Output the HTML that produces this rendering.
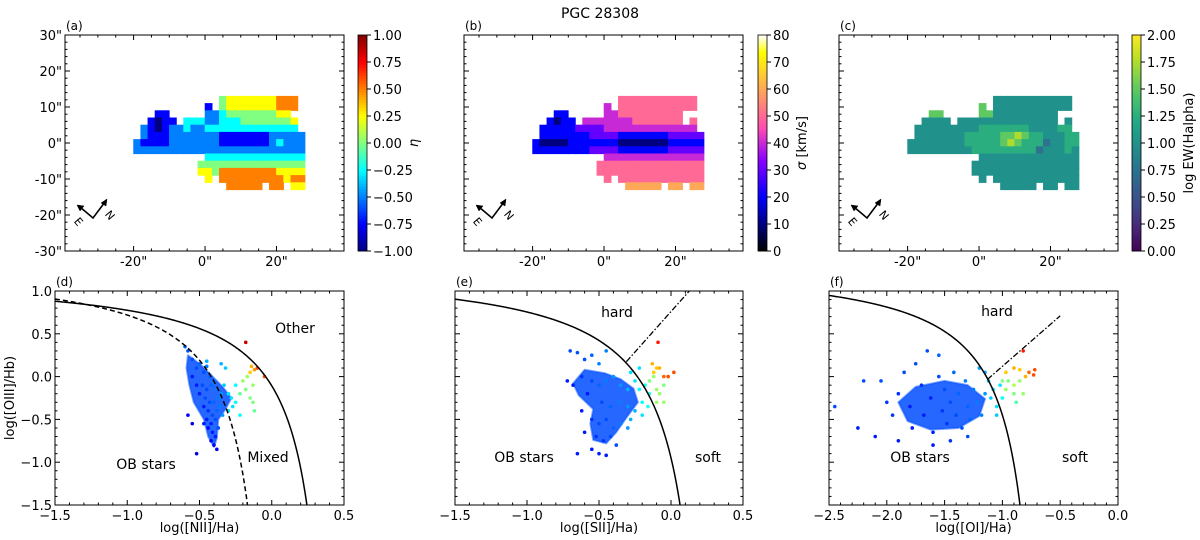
<!DOCTYPE html>
<html><head><meta charset="utf-8"><style>
html,body{margin:0;padding:0;background:#fff;width:1200px;height:540px;overflow:hidden;}
svg{display:block;font-family:"DejaVu Sans","Liberation Sans",sans-serif;}
</style></head><body>
<svg id="fig" width="1200" height="540" viewBox="0 0 1200 540" xmlns="http://www.w3.org/2000/svg">
<text x="600" y="18" text-anchor="middle" font-size="14">PGC 28308</text>
</svg>
<script>
// ---------- DATA ----------
const mapColsX = [-19,-17,-15,-13,-11,-9,-7,-5,-3,-1,1,3,5,7,9,11,13,15,17,19,21,23,25,27];
const mapRowsY = [12,10,8,6,4,2,0,-2,-4,-6,-8,-10,-12];
const etaRows = [
"............45555555666.",
"..........1.45555555666.",
"...11.....223444444455..",
"..1011.3332233344444445.",
".2101223223333333333333.",
".21112222222111111122222",
"211112222222111111123222",
"222222222222222222222222",
"..........33333333333333",
".........444444444444444",
".........554666666665555",
"..........5.666666666566",
".............66666.66.55"];
const sigRows = [
"............55555555555.",
"..........4.55555555555.",
"...22.....44555555555...",
"..2122.44444445555555.5.",
".2222233334444444444444.",
".22222223333222222233333",
"211112222222111111122222",
"222222223333222222233333",
"..........44444444444444",
".........555555555555555",
".........555555555555555",
"..........5.555555555555",
".............66666.66.66"];
const ewRows = [
"............44444444444.",
"..........6.44444444444.",
"...66.....66444444444...",
"..4444.44444444444444.4.",
".4444444445555555444455.",
".44444445555566765544455",
"444444445555567655534455",
"444444444555555555344454",
"..........44444444444444",
".........444444444444444",
".........444444444444444",
"..........4.444444444444",
".............44444.44.44"];
const etaTicks = [-1,-0.75,-0.5,-0.25,0,0.25,0.5,0.75,1];
const sigTicks = [0,10,20,30,40,50,60,70,80];
const ewTicks = [0,0.25,0.5,0.75,1,1.25,1.5,1.75,2];
const mapXTicks = [-20,0,20];
const mapYTicks = [-30,-20,-10,0,10,20,30];

const nIIPoints = [[-0.58,0.3,-0.6],[-0.55,0.2,-0.6],[-0.52,0.1,-0.6],[-0.5,0.15,-0.55],[-0.47,0.05,-0.6],[-0.45,0.12,-0.5],[-0.43,0,-0.55],[-0.55,0,-0.7],[-0.52,-0.1,-0.7],[-0.48,-0.1,-0.6],[-0.45,-0.15,-0.6],[-0.42,-0.1,-0.55],[-0.4,-0.05,-0.5],[-0.38,-0.15,-0.5],[-0.5,-0.2,-0.7],[-0.46,-0.25,-0.6],[-0.43,-0.3,-0.6],[-0.4,-0.3,-0.55],[-0.37,-0.25,-0.5],[-0.35,-0.2,-0.45],[-0.47,-0.35,-0.7],[-0.44,-0.4,-0.65],[-0.41,-0.45,-0.6],[-0.38,-0.4,-0.55],[-0.36,-0.35,-0.5],[-0.45,-0.5,-0.7],[-0.42,-0.55,-0.7],[-0.39,-0.5,-0.6],[-0.37,-0.6,-0.6],[-0.44,-0.6,-0.75],[-0.41,-0.65,-0.7],[-0.39,-0.7,-0.7],[-0.42,-0.75,-0.75],[-0.4,-0.8,-0.75],[-0.38,-0.85,-0.75],[-0.47,-0.55,-0.7],[-0.58,-0.45,-0.75],[-0.55,-0.55,-0.8],[-0.52,-0.9,-0.8],[-0.34,-0.45,-0.45],[-0.6,0.35,-0.55],[-0.45,0.18,-0.4],
[-0.33,-0.1,-0.35],[-0.3,-0.2,-0.3],[-0.28,-0.25,-0.3],[-0.32,0.1,-0.35],[-0.35,0.15,-0.4],[-0.27,-0.35,-0.3],[-0.25,-0.3,-0.25],[-0.3,-0.4,-0.3],[-0.22,-0.45,-0.25],[-0.25,-0.1,-0.25],
[-0.22,-0.2,-0.05],[-0.18,-0.15,0],[-0.15,-0.25,0],[-0.2,-0.05,0.05],[-0.17,0,0.05],[-0.13,-0.1,0.05],[-0.13,-0.3,0],[-0.12,-0.4,-0.05],
[-0.15,0.05,0.35],[-0.14,0.12,0.4],[-0.12,0.08,0.45],[-0.1,0.1,0.6],[-0.05,0,0.6],[-0.18,0.4,0.85]];
const sIIPoints = [[-0.7,0.3,-0.6],[-0.65,0.28,-0.6],[-0.6,0.2,-0.6],[-0.55,0.25,-0.55],[-0.5,0.15,-0.5],[-0.45,0.3,-0.5],[-0.72,-0.05,-0.7],[-0.68,-0.1,-0.7],[-0.62,0,-0.65],[-0.58,-0.2,-0.7],[-0.55,-0.05,-0.6],[-0.5,-0.1,-0.55],[-0.45,-0.05,-0.5],[-0.4,0,-0.45],[-0.35,-0.1,-0.45],[-0.3,-0.15,-0.4],[-0.48,-0.3,-0.6],[-0.42,-0.35,-0.55],[-0.36,-0.3,-0.5],[-0.3,-0.35,-0.45],[-0.25,-0.4,-0.4],[-0.55,-0.5,-0.65],[-0.5,-0.55,-0.6],[-0.45,-0.5,-0.6],[-0.4,-0.6,-0.55],[-0.35,-0.55,-0.5],[-0.52,-0.7,-0.65],[-0.47,-0.75,-0.65],[-0.42,-0.7,-0.6],[-0.38,-0.8,-0.6],[-0.55,-0.85,-0.7],[-0.5,-0.9,-0.7],[-0.65,-0.9,-0.7],[-0.45,-0.92,-0.7],[-0.62,-0.4,-0.7],[-0.6,-0.65,-0.7],[-0.3,-0.6,-0.45],[-0.28,-0.5,-0.4],
[-0.28,0.05,-0.3],[-0.25,-0.05,-0.3],[-0.22,-0.15,-0.25],[-0.2,-0.3,-0.25],[-0.18,-0.1,-0.2],[-0.15,-0.2,-0.2],[-0.22,0.1,-0.3],[-0.16,-0.35,-0.2],[-0.2,-0.45,-0.3],
[-0.15,-0.05,0],[-0.12,0,0.05],[-0.1,-0.15,0.05],[-0.08,-0.2,0.05],[-0.05,-0.1,0],[-0.1,-0.3,0.05],[-0.05,-0.3,0.05],
[-0.12,0.05,0.35],[-0.1,0.1,0.35],[-0.13,0.15,0.4],[-0.08,0.1,0.4],[-0.05,0,0.55],[-0.02,0,0.6],[0.02,0.05,0.6],[-0.09,0.4,0.7]];
const oIPoints = [[-2.45,-0.35,-0.6],[-2.2,-0.05,-0.6],[-2.05,-0.05,-0.6],[-2.0,-0.3,-0.65],[-1.95,-0.45,-0.65],[-1.9,-0.2,-0.65],[-1.85,0.05,-0.6],[-1.8,-0.35,-0.7],[-1.78,-0.6,-0.7],[-1.75,0.15,-0.6],[-1.7,-0.1,-0.65],[-1.68,-0.45,-0.7],[-1.65,0.3,-0.6],[-1.62,-0.25,-0.7],[-1.6,-0.65,-0.7],[-1.55,0.0,-0.6],[-1.52,-0.4,-0.65],[-1.5,-0.15,-0.6],[-1.48,-0.55,-0.65],[-1.45,-0.3,-0.6],[-1.42,0.05,-0.55],[-1.4,-0.45,-0.6],[-1.38,-0.2,-0.55],[-1.35,-0.6,-0.6],[-1.32,-0.05,-0.5],[-1.3,-0.35,-0.55],[-1.28,-0.5,-0.55],[-1.25,-0.15,-0.5],[-1.22,-0.3,-0.5],[-1.2,0.1,-0.45],[-1.18,-0.45,-0.5],[-1.15,-0.2,-0.45],[-1.6,-0.8,-0.7],[-1.45,-0.75,-0.65],[-2.25,-0.6,-0.7],[-2.1,-0.7,-0.7],[-1.9,-0.75,-0.7],[-1.3,-0.7,-0.6],[-1.55,0.25,-0.55],
[-1.12,-0.05,-0.35],[-1.1,-0.25,-0.35],[-1.08,-0.15,-0.3],[-1.05,-0.35,-0.3],[-1.02,-0.1,-0.3],[-1.0,-0.25,-0.25],[-1.15,0.05,-0.4],[-1.05,-0.45,-0.35],
[-1.0,-0.05,0],[-0.97,-0.15,0.05],[-0.95,-0.05,0],[-0.9,-0.2,0],[-0.9,-0.1,0.1],[-0.85,-0.05,0.05],[-0.82,-0.2,0.05],[-0.88,-0.3,-0.1],
[-0.97,0.05,0.35],[-0.9,0.1,0.4],[-0.85,0.08,0.35],[-0.8,0.0,0.4],[-0.77,0.05,0.55],[-0.73,0.02,0.6],[-0.72,0.08,0.6],[-0.82,0.3,0.7]];
const nIICore = [[-0.58,0.25],[-0.5,0.15],[-0.42,0.02],[-0.34,-0.12],[-0.28,-0.25],[-0.32,-0.38],[-0.37,-0.5],[-0.38,-0.72],[-0.4,-0.82],[-0.44,-0.7],[-0.47,-0.5],[-0.54,-0.3],[-0.57,-0.1],[-0.59,0.1]];
const sIICore = [[-0.68,-0.08],[-0.6,0.08],[-0.46,0.04],[-0.35,-0.03],[-0.26,-0.14],[-0.23,-0.3],[-0.31,-0.48],[-0.38,-0.65],[-0.45,-0.78],[-0.54,-0.74],[-0.56,-0.55],[-0.54,-0.38],[-0.64,-0.22]];
const oICore = [[-1.9,-0.3],[-1.75,-0.12],[-1.5,-0.05],[-1.3,-0.1],[-1.15,-0.26],[-1.2,-0.46],[-1.38,-0.6],[-1.62,-0.62],[-1.82,-0.52]];
const bptXTicksD = [-1.5,-1.0,-0.5,0.0,0.5];
const bptXTicksF = [-2.5,-2.0,-1.5,-1.0,-0.5,0.0];
const bptYTicks = [-1.5,-1.0,-0.5,0.0,0.5,1.0];

// ---------- HELPERS ----------
const NS = "http://www.w3.org/2000/svg";
const svg = document.getElementById('fig');
function mk(tag, attrs, parent){const e=document.createElementNS(NS,tag);for(const k in attrs)e.setAttribute(k,attrs[k]);(parent||svg).appendChild(e);return e;}
function fmt(v,d){const s=v.toFixed(d);return s.replace('-','\u2212');}
function clamp(v){return Math.max(0,Math.min(1,v));}
function rgb(r,g,b){return 'rgb('+Math.round(r*255)+','+Math.round(g*255)+','+Math.round(b*255)+')';}
function jet(v){const t=(v+1)/2;return rgb(clamp(1.5-Math.abs(4*t-3)),clamp(1.5-Math.abs(4*t-2)),clamp(1.5-Math.abs(4*t-1)));}
function gnu2(v){const x=clamp(v/80);const r=clamp(x/0.32-0.78125),g=clamp(2*x-0.84);let b;if(x<0.25)b=4*x;else if(x<0.42)b=1;else if(x<0.92)b=-2*x+1.84;else b=x/0.08-11.5;return rgb(r,g,clamp(b));}
const vstops=['#440154','#482475','#414487','#355f8d','#2a788e','#21918c','#22a884','#44bf70','#7ad151','#bddf26','#fde725'];
function hex(h){return [parseInt(h.substr(1,2),16),parseInt(h.substr(3,2),16),parseInt(h.substr(5,2),16)];}
function viridis(v){const t=clamp(v/2)*10;const i=Math.min(9,Math.floor(t));const f=t-i;const a=hex(vstops[i]),b=hex(vstops[i+1]);return 'rgb('+a.map((c,k)=>Math.round(c+(b[k]-c)*f)).join(',')+')';}
function scale(d0,d1,p0,p1){return v=>p0+(v-d0)/(d1-d0)*(p1-p0);}

function frame(g,box,xs,ys,xr,yr,xMaj,xMin,yMaj,yMin){
  for(let v=Math.ceil(xr[0]/xMin)*xMin; v<=xr[1]+1e-9; v+=xMin){
    const maj = xMaj.some(m=>Math.abs(m-v)<1e-6); const L=maj?5:2.5; const X=xs(v);
    mk('line',{x1:X,y1:box.y1,x2:X,y2:box.y1-L,stroke:'#000','stroke-width':1},g);
    mk('line',{x1:X,y1:box.y0,x2:X,y2:box.y0+L,stroke:'#000','stroke-width':1},g);
  }
  for(let v=Math.ceil(yr[0]/yMin)*yMin; v<=yr[1]+1e-9; v+=yMin){
    const maj = yMaj.some(m=>Math.abs(m-v)<1e-6); const L=maj?5:2.5; const Y=ys(v);
    mk('line',{x1:box.x0,y1:Y,x2:box.x0+L,y2:Y,stroke:'#000','stroke-width':1},g);
    mk('line',{x1:box.x1,y1:Y,x2:box.x1-L,y2:Y,stroke:'#000','stroke-width':1},g);
  }
  mk('rect',{x:box.x0,y:box.y0,width:box.x1-box.x0,height:box.y1-box.y0,fill:'none',stroke:'#000','stroke-width':1},g);
}

// ---------- MAPS ----------
function drawMap(name,letter,box,rows,valFn,cmap,cbar,ticks,tfmt,cblabel,cbLabelX,showY){
  const g=mk('g',{});  
  const xr=[-39.2,38.9], yr=[-30,30];
  const xs=scale(xr[0],xr[1],box.x0,box.x1), ys=scale(yr[0],yr[1],box.y1,box.y0);
  const cw=xs(2)-xs(0), ch=ys(0)-ys(2);
  rows.forEach((row,j)=>{for(let i=0;i<mapColsX.length;i++){const c=row[i];if(!c||c==='.')continue;
    const r=mk('rect',{x:xs(mapColsX[i]-1)-0.3,y:ys(mapRowsY[j]+1)-0.3,width:cw+0.6,height:ch+0.6,fill:cmap(valFn(+c))},g);
    
    }});
  frame(g,box,xs,ys,xr,yr,mapXTicks,5,mapYTicks,2);
  mapXTicks.forEach(v=>{const t=mk('text',{x:xs(v),y:box.y1+15,'text-anchor':'middle','font-size':13},g);t.textContent=v+'"';});
  if(showY) mapYTicks.forEach(v=>{const t=mk('text',{x:box.x0-3,y:ys(v)+5,'text-anchor':'end','font-size':13},g);t.textContent=v+'"';});
  const lt=mk('text',{x:box.x0+1,y:box.y0-5,'font-size':12},g);lt.textContent=letter;
  const cg=mk('g',{stroke:'#000','stroke-width':1.6,fill:'none'},g);
  const vx=box.x0+28, vy=box.y0+183;
  mk('polyline',{points:(vx-13)+','+(vy-11)+' '+vx+','+vy+' '+(vx+12)+','+(vy-16)},cg);
  mk('polygon',{points:(vx-16)+','+(vy-13)+' '+(vx-9)+','+(vy-12)+' '+(vx-13)+','+(vy-7),fill:'#000','stroke-width':0.5},cg);
  mk('polygon',{points:(vx+14)+','+(vy-19)+' '+(vx+13)+','+(vy-12)+' '+(vx+8)+','+(vy-15),fill:'#000','stroke-width':0.5},cg);
  const e=mk('text',{x:vx-18,y:vy+8,'font-size':11,transform:'rotate(50 '+(vx-14)+' '+(vy+4)+')'},g);e.textContent='E';
  const n=mk('text',{x:vx+13,y:vy+1,'font-size':11,transform:'rotate(50 '+(vx+17)+' '+(vy-3)+')'},g);n.textContent='N';
  const cb=mk('g',{},g);
  const cs=scale(ticks[0],ticks[ticks.length-1],box.y1,box.y0);
  const N=80;for(let k=0;k<N;k++){const v=ticks[0]+(ticks[ticks.length-1]-ticks[0])*(k+0.5)/N;
    mk('rect',{x:cbar,y:box.y1-(k+1)*(box.y1-box.y0)/N,width:9,height:(box.y1-box.y0)/N+0.5,fill:cmap(v)},cb);}
  mk('rect',{x:cbar,y:box.y0,width:9,height:box.y1-box.y0,fill:'none',stroke:'#000','stroke-width':0.8},cb);
  ticks.forEach(v=>{mk('line',{x1:cbar+9,y1:cs(v),x2:cbar+13,y2:cs(v),stroke:'#000'},cb);
    const t=mk('text',{x:cbar+15,y:cs(v)+5,'font-size':13},cb);t.textContent=tfmt(v);});
  const yl=(box.y0+box.y1)/2;
  const cl=mk('text',{x:cbLabelX,y:yl,'text-anchor':'middle','font-size':13,transform:'rotate(-90 '+cbLabelX+' '+yl+')'},cb);
  cl.innerHTML=cblabel;
}
drawMap('panel-a-eta-map','(a)',{x0:65,x1:344,y0:35,y1:251},etaRows,d=>-1+0.25*d,jet,358,etaTicks,v=>fmt(v,2),'<tspan font-style="italic">η</tspan>',418,true);
drawMap('panel-b-sigma-map','(b)',{x0:464,x1:743,y0:35,y1:251},sigRows,d=>10*d,gnu2,758,sigTicks,v=>String(v),'<tspan font-style="italic">σ</tspan> [km/s]',806,false);
drawMap('panel-c-ew-map','(c)',{x0:839,x1:1118,y0:35,y1:251},ewRows,d=>0.25*d,viridis,1132,ewTicks,v=>v.toFixed(2),'log EW(Halpha)',1193,false);

// ---------- BPT ----------
function drawBPT(name,letter,box,xr,xTicks,pts,core,curve,curveMax,dashed,lineFn,lineRange,labels,xlabel,showY){
  const g=mk('g',{});  
  const yr=[-1.5,1.0];
  const xs=scale(xr[0],xr[1],box.x0,box.x1), ys=scale(yr[0],yr[1],box.y1,box.y0);
  const cid=name+'-clip';const cp=mk('clipPath',{id:cid},g);mk('rect',{x:box.x0,y:box.y0,width:box.x1-box.x0,height:box.y1-box.y0},cp);
  const pg=mk('g',{'clip-path':'url(#'+cid+')'},g);
  const cpoly=mk('polygon',{points:core.map(p=>xs(p[0])+','+ys(p[1])).join(' '),fill:jet(-0.6),'fill-opacity':0.85,stroke:jet(-0.6),'stroke-opacity':0.5,'stroke-width':2,'stroke-linejoin':'round'},pg);
  
  pts.forEach(p=>{const c=mk('circle',{cx:xs(p[0]),cy:ys(p[1]),r:1.8,fill:jet(p[2])},pg);});
  function path(fn,x0,x1,attrs,nm){let d='';const n=300;for(let k=0;k<=n;k++){const x=x0+(x1-x0)*k/n;const y=fn(x);if(!isFinite(y))continue;d+=(d?'L':'M')+xs(x).toFixed(2)+','+ys(Math.max(-1.6,Math.min(1.1,y))).toFixed(2);}
    const p=mk('path',Object.assign({d:d,fill:'none',stroke:'#000','stroke-width':1.5},attrs),pg);}
  path(curve,xr[0],curveMax,{},'max-starburst-line');
  if(dashed) path(dashed[0],xr[0],dashed[1],{'stroke-dasharray':'5,3'},'kauffmann-line');
  if(lineFn) path(lineFn,lineRange[0],lineRange[1],{'stroke-dasharray':'6,2,1.5,2','stroke-width':1.3},'seyfert-liner-line');
  frame(g,box,xs,ys,xr,yr,xTicks,0.1,bptYTicks,0.1);
  xTicks.forEach(v=>{const t=mk('text',{x:xs(v),y:box.y1+15,'text-anchor':'middle','font-size':13},g);t.textContent=fmt(v,1);});
  if(showY){bptYTicks.forEach(v=>{const t=mk('text',{x:box.x0-3,y:ys(v)+5,'text-anchor':'end','font-size':13},g);t.textContent=fmt(v,1);});
    const yt=mk('text',{x:14,y:(box.y0+box.y1)/2,'text-anchor':'middle','font-size':13,transform:'rotate(-90 14 '+((box.y0+box.y1)/2)+')'},g);yt.textContent='log([OIII]/Hb)';}
  const xt=mk('text',{x:(box.x0+box.x1)/2,y:box.y1+27,'text-anchor':'middle','font-size':13},g);xt.textContent=xlabel;
  const lt=mk('text',{x:box.x0+1,y:box.y0-5,'font-size':12},g);lt.textContent=letter;
  labels.forEach(l=>{const t=mk('text',{x:l[1],y:l[2],'text-anchor':'middle','font-size':14},g);t.textContent=l[0];});
}
const BOXD={x0:55,x1:344,y0:291,y1:505},BOXE={x0:455,x1:743,y0:291,y1:505},BOXF={x0:829,x1:1118,y0:291,y1:505};
drawBPT('panel-d-nii-bpt','(d)',BOXD,[-1.5,0.5],bptXTicksD,nIIPoints,nIICore,x=>0.61/(x-0.47)+1.19,0.46,[x=>0.61/(x-0.05)+1.3,0.04],null,null,
  [['Other',295,333],['Mixed',268,462],['OB stars',146,469]],'log([NII]/Ha)',true);
drawBPT('panel-e-sii-bpt','(e)',BOXE,[-1.5,0.5],bptXTicksD,sIIPoints,sIICore,x=>0.72/(x-0.32)+1.30,0.31,null,x=>1.89*x+0.76,[-0.31,0.14],
  [['hard',617,317],['OB stars',524,462],['soft',708,462]],'log([SII]/Ha)',false);
drawBPT('panel-f-oi-bpt','(f)',BOXF,[-2.5,0.0],bptXTicksF,oIPoints,oICore,x=>0.73/(x+0.59)+1.33,-0.6,null,x=>1.18*x+1.30,[-1.13,-0.5],
  [['hard',997,316],['OB stars',920,462],['soft',1075,462]],'log([OI]/Ha)',false);
</script>
</body></html>
